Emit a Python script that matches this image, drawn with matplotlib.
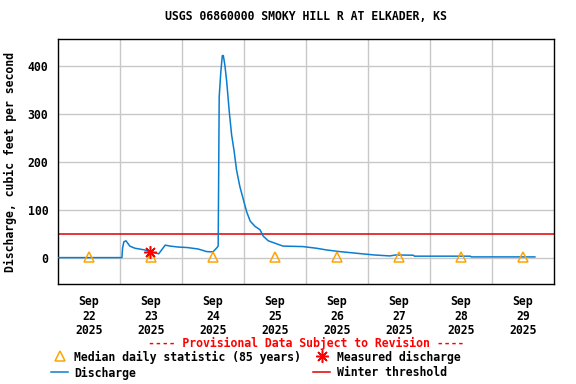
import matplotlib
matplotlib.use("Agg")
import matplotlib.pyplot as plt
from matplotlib.lines import Line2D
import pandas as pd

title = "USGS 06860000 SMOKY HILL R AT ELKADER, KS"
ylabel = "Discharge, cubic feet per second"

start = pd.Timestamp("2025-09-22 00:00")

# Discharge (hours since Sep 22 00:00, cfs)
discharge_hours = [0, 24.75, 25.0, 25.5, 26.3, 27.0, 27.8, 29.8, 33.6, 35.5, 38.2, 39.0,
                   40.1, 41.5, 43.4, 46.6, 50.0, 54.2, 57.6, 60.0, 61.4, 62.0, 62.4, 63.0,
                   63.6, 64.0, 64.6, 65.3, 66.3, 67.2, 68.2, 69.1, 70.4, 71.8, 73.0, 74.4,
                   76.3, 78.2, 79.4, 81.4, 84.0, 87.1, 94.8, 100.1, 103.9, 109.1, 115.7,
                   122.2, 128.4, 130.8, 137.5, 138.0, 159.6, 160.0, 184.6]
discharge_cfs = [0, 0, 20, 33, 35, 30, 24, 19.5, 16, 12.5, 9, 8,
                 16, 26, 24, 22, 21, 18, 12.5, 12, 20, 24, 335, 385,
                 421, 421, 401, 367, 304, 256, 221, 183, 148, 120, 96, 76,
                 65, 58, 45, 35, 30, 24, 23, 19.5, 16, 12.5, 9,
                 5.6, 3.5, 5.5, 5, 3, 3, 1.5, 1.5]

# Median daily statistic (85 years), plotted at noon of each day
median_days = ["2025-09-22", "2025-09-23", "2025-09-24", "2025-09-25",
               "2025-09-26", "2025-09-27", "2025-09-28", "2025-09-29"]
median_cfs = [1.5, 1.5, 1.5, 1.4, 1.4, 1.3, 1.3, 1.3]

# Measured discharge
measured_time = ["2025-09-23 11:36"]
measured_cfs = [12]

winter_threshold = 50

tick_days = ["2025-09-22", "2025-09-23", "2025-09-24", "2025-09-25",
             "2025-09-26", "2025-09-27", "2025-09-28", "2025-09-29"]
yticks = [0, 100, 200, 300, 400]

t_dis = start + pd.to_timedelta(discharge_hours, unit="h")
t_med = pd.to_datetime(median_days) + pd.Timedelta(hours=12)
t_meas = pd.to_datetime(measured_time)

FONT = "DejaVu Sans Mono"
FS = 8.3
blue = "#0b7dcf"
orange = "#ffa500"

fig = plt.figure(figsize=(5.76, 3.84), dpi=100)
ax = fig.add_axes([58/576, 1-284/384, 496/576, (284-39.3)/384])

ax.axhline(winter_threshold, color="#e00000", lw=1.1, zorder=2)
ax.plot(t_dis, discharge_cfs, color=blue, lw=1.1, zorder=3)
ax.plot(t_med, median_cfs, linestyle="none", marker="^", markersize=7.5,
        markerfacecolor="none", markeredgecolor=orange, markeredgewidth=1.1, zorder=4)
ax.plot(t_meas, measured_cfs, linestyle="none", marker=(8, 2, 0), markersize=9,
        color="red", markeredgewidth=1.1, zorder=5)

ax.set_xlim(start, start + pd.Timedelta(days=8))
ax.set_ylim(-55, 455)

# gridlines at midnight (major), labels at noon (minor)
ax.set_xticks(pd.to_datetime(tick_days[1:]))
ax.set_xticklabels([])
ax.set_xticks(pd.to_datetime(tick_days) + pd.Timedelta(hours=12), minor=True)
ax.set_xticklabels([pd.Timestamp(d).strftime("%b\n%d\n%Y") for d in tick_days],
                   minor=True, fontfamily=FONT, fontweight="bold", fontsize=FS,
                   linespacing=1.15)
ax.tick_params(axis="x", which="both", length=0, pad=8)

ax.set_yticks(yticks)
ax.set_yticklabels([str(v) for v in yticks], fontfamily=FONT, fontweight="bold", fontsize=FS)
ax.tick_params(axis="y", length=0, pad=7)

ax.grid(True, which="major", color="#c8c8c8", lw=1)
ax.set_axisbelow(True)
for s in ax.spines.values():
    s.set_color("black")
    s.set_linewidth(1)

ax.set_ylabel(ylabel, fontfamily=FONT, fontweight="bold", fontsize=FS, labelpad=8)
ax.set_title(title, fontfamily=FONT, fontweight="bold", fontsize=FS, pad=14)

# Legend drawn in figure pixel coordinates
def fx(px):
    return px / 576

def fy(py):
    return 1 - py / 384

fig.text(fx(306), fy(343), "---- Provisional Data Subject to Revision ----",
         color="red", ha="center", va="center", fontfamily=FONT, fontweight="bold", fontsize=FS)

fig.add_artist(Line2D([fx(60)], [fy(356)], marker="^", markersize=7.5, markerfacecolor="none",
                      markeredgecolor=orange, markeredgewidth=1.1, linestyle="none"))
fig.text(fx(74), fy(357), "Median daily statistic (85 years)", ha="left", va="center",
         fontfamily=FONT, fontweight="bold", fontsize=FS)
fig.add_artist(Line2D([fx(322)], [fy(356)], marker=(8, 2, 0), markersize=9, color="red",
                      markeredgewidth=1.1, linestyle="none"))
fig.text(fx(337), fy(357), "Measured discharge", ha="left", va="center",
         fontfamily=FONT, fontweight="bold", fontsize=FS)

fig.add_artist(Line2D([fx(51), fx(68)], [fy(372), fy(372)], color=blue, lw=1.1))
fig.text(fx(74), fy(373), "Discharge", ha="left", va="center",
         fontfamily=FONT, fontweight="bold", fontsize=FS)
fig.add_artist(Line2D([fx(313), fx(330)], [fy(372), fy(372)], color="#e00000", lw=1.1))
fig.text(fx(337), fy(373), "Winter threshold", ha="left", va="center",
         fontfamily=FONT, fontweight="bold", fontsize=FS)

fig.savefig("out.png", dpi=100)
